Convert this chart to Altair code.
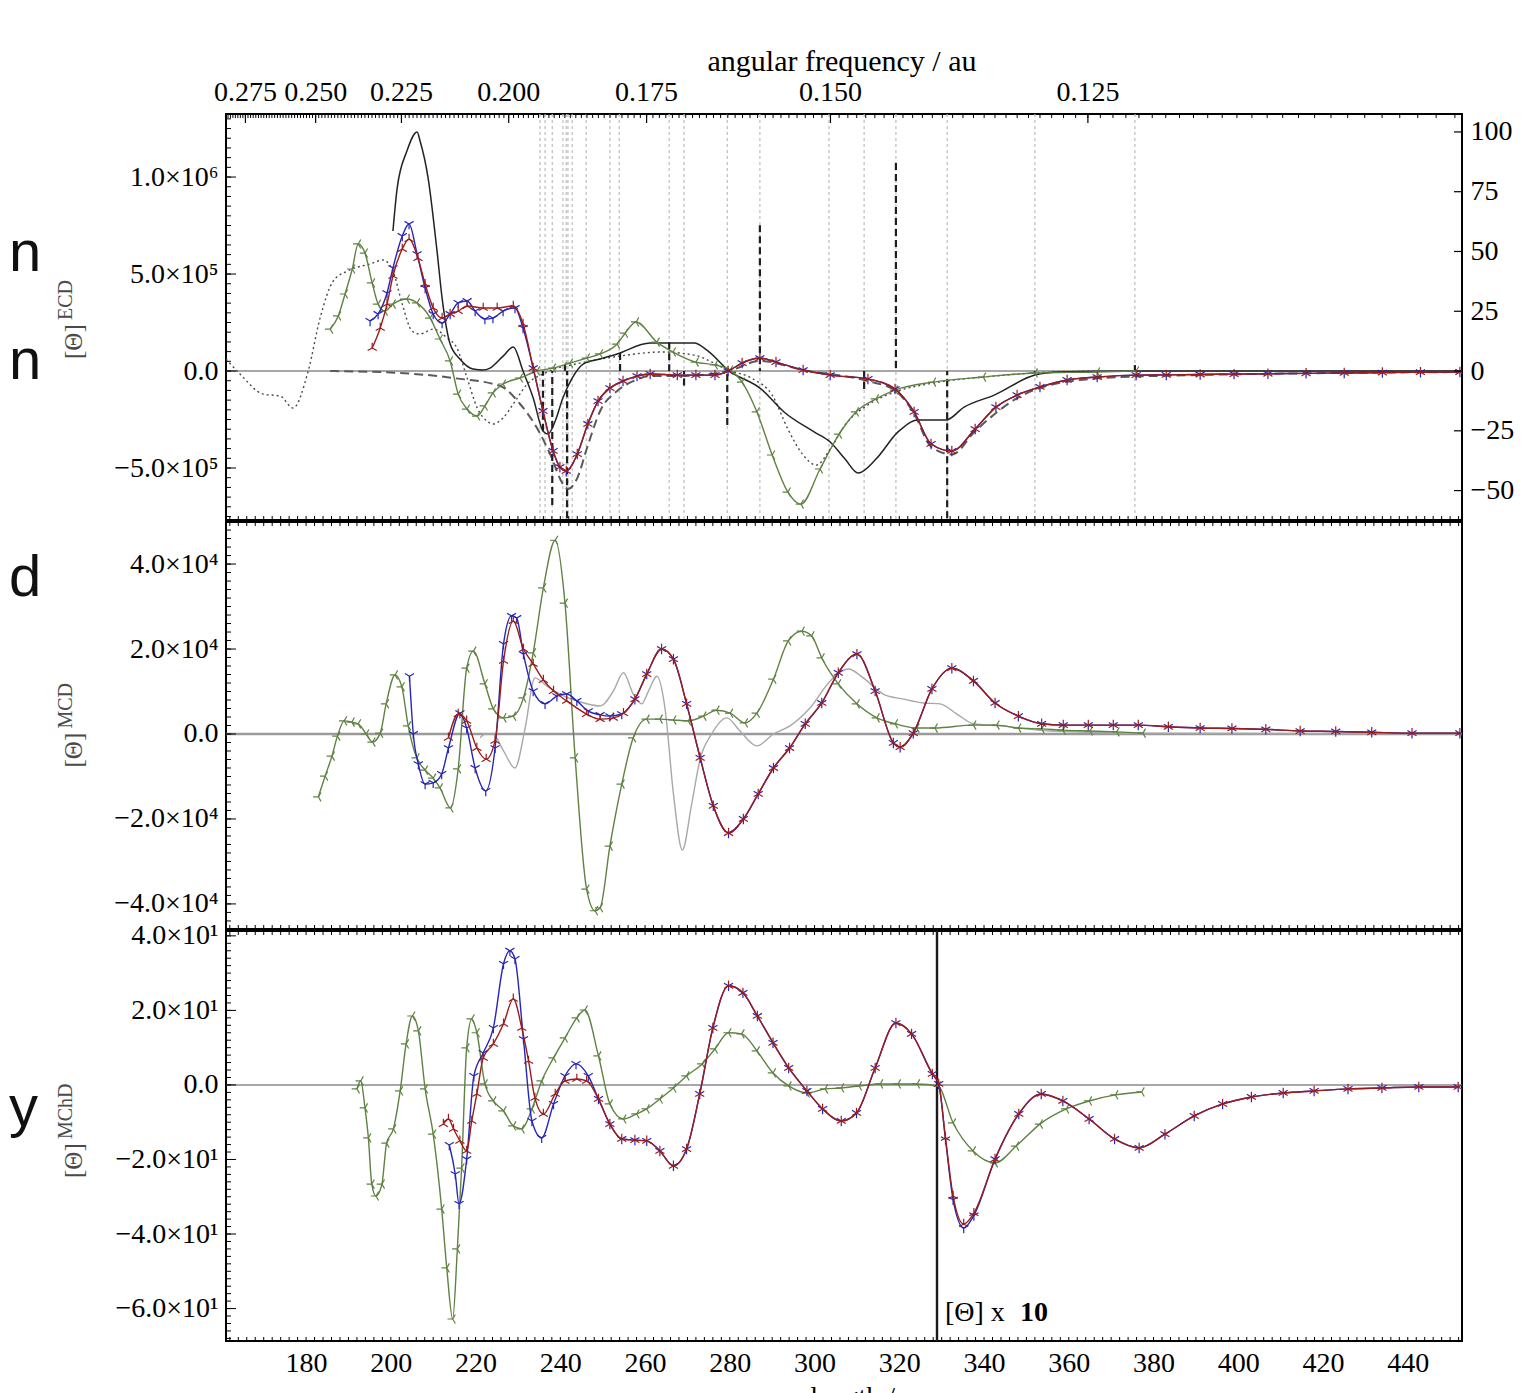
import altair as alt
import numpy as np
import pandas as pd

# ===================== DATA =====================
# x: wavelength / nm.  ECD in units of 1e5, MCD in 1e4, MChD as is (x10 right of break)
ECD_BLACK_X = [200.5, 201.5, 203.8, 206.2, 206.9, 208.8, 210.9, 212.1, 214.0, 216.3, 219.4, 221.8, 223.4,
               226.5, 228.9, 231.2, 233.6, 235.9, 237.1, 238.8, 240.6, 242.8, 245.4, 249.4, 253.4, 261.2,
               271.6, 274.6, 279.6, 287.4, 292.8, 299.9, 303.7, 307.2, 310.3, 314.5, 319.7, 324.4, 331.0,
               335.3, 342.4, 352.0, 357.9, 375.4, 452.8]
ECD_BLACK_Y = [7.22, 9.43, 11.34, 12.32, 11.86, 9.95, 6.19, 3.76, 1.39, 0.62, 0.10, 0.05, 0.15,
               0.77, 1.24, 0.0, -1.39, -3.09, -3.25, -2.58, -1.39, -0.36, 0.36, 0.62, 0.88, 1.44,
               1.44, 1.08, 0.05, -0.93, -2.11, -3.14, -3.66, -4.54, -5.26, -4.54, -3.14, -2.53, -2.53,
               -1.86, -1.24, -0.21, -0.05, 0.0, 0.0]

ECD_DOTTED_X = [161.1, 164.4, 169.9, 173.9, 176.9, 180.5, 183.3, 186.4, 189.7, 195.1, 198.2, 200.5, 202.7,
                205.0, 206.9, 210.0, 213.3, 215.6, 218.0, 220.4, 222.7, 224.1, 226.5, 228.9, 232.2, 236.4,
                244.7, 254.1, 263.8, 271.6, 279.6, 285.5, 290.0, 293.7, 297.3, 300.4, 303.7, 307.2, 312.6,
                319.0, 328.0, 339.8, 352.0, 367.4]
ECD_DOTTED_Y = [0.62, -0.15, -1.19, -1.29, -1.91, 0.0, 2.73, 4.64, 5.15, 5.52, 5.72, 5.15, 3.45,
                2.06, 1.91, 2.16, 1.70, 1.19, -0.36, -1.91, -2.58, -2.73, -2.42, -1.70, -0.67, -0.10,
                0.41, 0.77, 0.98, 0.82, 0.05, -0.41, -1.24, -2.99, -4.33, -4.85, -4.02, -2.78, -1.75,
                -1.08, -0.62, -0.31, -0.10, 0.0]

ECD_DASHED_X = [185.7, 202.2, 214.7, 225.8, 230.5, 234.5, 237.6, 240.6, 241.8, 244.0, 246.3, 249.4, 253.4,
                257.2, 261.2, 267.6, 279.6, 287.1, 297.3, 312.6, 319.0, 323.5, 327.5, 332.4, 337.9, 347.8,
                359.6, 375.9, 452.8]
ECD_DASHED_Y = [0.0, -0.10, -0.36, -0.77, -1.70, -2.94, -4.28, -5.82, -6.08, -5.52, -3.97, -2.06, -1.03,
                -0.52, -0.26, -0.26, 0.0, 0.52, 0.05, -0.52, -1.0, -2.2, -3.9, -4.3, -3.1, -1.4,
                -0.55, -0.28, -0.05]

ECD_GREEN_X = [185.7, 187.6, 189.2, 190.9, 192.3, 193.9, 195.6, 197.0, 198.6, 200.5, 203.8, 206.2, 209.3,
               211.6, 214.0, 215.9, 218.0, 220.4, 222.2, 224.1, 226.5, 230.5, 234.5, 238.3, 242.3, 246.3,
               249.4, 253.4, 255.3, 257.9, 262.8, 266.6, 272.0, 276.5, 280.1, 282.9, 286.4, 290.0, 293.7,
               296.8, 301.3, 305.8, 309.8, 314.5, 319.0, 328.0, 339.8, 352.0, 366.7, 375.9]
ECD_GREEN_Y = [2.16, 2.84, 3.97, 5.26, 6.55, 6.08, 4.54, 3.45, 3.09, 3.45, 3.71, 3.51, 2.73,
               1.65, 0.52, -1.19, -1.96, -2.32, -1.80, -1.13, -0.67, -0.36, 0.0, 0.15, 0.41, 0.67,
               0.88, 1.39, 1.95, 2.53, 1.49, 0.98, 0.46, 0.31, 0.05, -0.57, -2.11, -4.33, -6.24,
               -6.86, -5.05, -3.25, -2.11, -1.44, -0.98, -0.57, -0.31, -0.10, -0.05, 0.0]

ECD_RED_HEAD_X = [195.6, 197.5, 199.1, 200.5, 202.7, 204.3, 206.4, 208.1, 210.0, 212.1, 214.0, 215.9,
                  218.0, 221.8, 225.1, 228.9, 231.2]
ECD_RED_HEAD_Y = [1.19, 2.22, 3.45, 4.90, 6.29, 6.80, 5.82, 4.48, 3.25, 2.73, 2.94, 3.09,
                  3.35, 3.25, 3.25, 3.35, 2.42]
ECD_BLUE_HEAD_X = [195.1, 197.0, 199.1, 200.5, 202.7, 204.3, 206.2, 208.1, 210.0, 212.1, 214.0, 215.9,
                   218.0, 219.9, 222.2, 224.1, 226.5, 229.3, 231.2]
ECD_BLUE_HEAD_Y = [2.58, 2.94, 4.02, 5.31, 6.96, 7.58, 6.03, 4.28, 2.94, 2.47, 2.94, 3.51,
                   3.61, 3.09, 2.68, 2.73, 3.09, 3.25, 2.22]
ECD_TAIL_X = [233.6, 235.9, 238.3, 239.9, 241.4, 244.0, 246.5, 248.9, 251.7, 254.8, 258.1, 261.2,
              267.6, 272.0, 276.5, 279.6, 282.9, 287.1, 290.9, 297.3, 303.7, 312.6, 319.0, 323.5,
              327.5, 332.4, 337.9, 342.8, 347.8, 353.2, 359.6, 366.7, 375.9, 383.0, 391.0, 399.0,
              407.0, 416.0, 425.0, 434.0, 443.0, 452.3]
ECD_TAIL_Y = [0.15, -2.06, -4.12, -4.95, -5.15, -4.28, -2.73, -1.55, -0.88, -0.52, -0.26, -0.15,
              -0.21, -0.21, -0.21, 0.0, 0.41, 0.67, 0.46, 0.05, -0.21, -0.41, -0.93, -2.11,
              -3.76, -4.12, -2.99, -1.86, -1.24, -0.82, -0.46, -0.31, -0.21, -0.20, -0.18, -0.16,
              -0.14, -0.12, -0.10, -0.08, -0.06, -0.05]

# stick spectrum (right axis) and excitation wavelengths
STICK_X = [235.9, 238.1, 241.1, 241.6, 254.1, 265.7, 269.2, 279.4, 287.1, 311.7, 319.2, 331.3, 352.0, 375.6]
STICK_R = [-25, -56, 3, -80, 7.5, 12, -6, -22.6, 61, -7.5, 87, -80, -1, 2.5]
EXC_X = [235.2, 236.4, 238.1, 240.6, 241.4, 241.8, 242.8, 246.1, 251.7, 253.9, 265.7, 269.2, 279.4,
         287.1, 303.4, 311.7, 319.2, 331.3, 352.0, 375.6]

MCD_GREEN_X = [182.9, 184.5, 186.1, 187.4, 189.0, 190.8, 192.3, 194.2, 195.7, 197.5, 198.9, 201.0, 202.6,
               204.1, 206.1, 208.1, 210.0, 211.6, 214.1, 215.9, 217.9, 219.5, 222.2, 224.2, 226.6, 228.9,
               231.3, 233.6, 236.0, 238.8, 241.1, 243.5, 246.2, 248.2, 249.4, 251.7, 254.5, 257.2, 260.4,
               263.5, 266.7, 270.2, 273.8, 276.9, 280.1, 283.6, 286.4, 290.3, 293.8, 297.0, 299.3, 301.7,
               305.6, 310.0, 314.7, 319.0, 324.1, 328.4, 337.5, 343.0, 348.1, 353.6, 358.6, 365.0, 371.3,
               377.5]
MCD_GREEN_Y = [-1.48, -0.99, -0.52, -0.05, 0.31, 0.28, 0.24, 0.0, -0.19, 0.02, 0.71, 1.39, 1.11,
               0.19, -0.56, -0.85, -1.04, -1.27, -1.74, -0.82, 1.55, 1.95, 1.18, 0.59, 0.38, 0.42,
               0.85, 1.91, 3.44, 4.56, 3.08, -0.56, -3.65, -4.16, -4.09, -2.64, -1.18, -0.09, 0.35,
               0.35, 0.33, 0.31, 0.42, 0.56, 0.49, 0.26, 0.49, 1.29, 2.19, 2.42, 2.31, 1.79,
               1.18, 0.71, 0.38, 0.24, 0.14, 0.14, 0.21, 0.21, 0.14, 0.12, 0.09, 0.07, 0.05,
               0.02]
MCD_GRAY_X = [221.1, 222.2, 224.1, 226.6, 229.3, 231.7, 234.0, 236.8, 239.9, 243.9, 249.4, 252.5, 254.9,
              257.2, 259.2, 260.8, 262.8, 264.7, 266.7, 268.8, 271.0, 273.0, 275.7, 279.3, 282.4, 286.4,
              290.3, 294.2, 298.9, 303.7, 308.0, 311.5, 316.2, 321.0, 325.7, 329.6, 333.6, 337.5, 343.8,
              355.6, 377.5, 452.8]
MCD_GRAY_Y = [-0.09, 0.0, 0.0, -0.40, -0.80, 0.14, 1.32, 1.13, 0.94, 0.78, 0.66, 1.01, 1.44,
              0.94, 0.71, 1.01, 1.36, 0.61, -1.41, -2.73, -1.65, -0.59, 0.0, 0.38, 0.07, -0.28,
              0.0, 0.19, 0.61, 1.25, 1.53, 1.32, 0.94, 0.82, 0.73, 0.71, 0.47, 0.24, 0.19,
              0.07, 0.02, 0.0]
MCD_RED_HEAD_X = [213.6, 215.9, 217.9, 220.3, 222.5, 224.6, 226.6, 228.9, 231.3, 233.6, 236.0, 238.4,
                  241.5, 246.2, 249.4, 252.5, 254.9]
MCD_RED_HEAD_Y = [-0.09, 0.47, 0.31, -0.33, -0.59, -0.16, 1.72, 2.66, 2.00, 1.65, 1.27, 1.01,
                  0.78, 0.47, 0.35, 0.38, 0.49]
MCD_BLUE_HEAD_X = [204.4, 205.3, 206.5, 208.1, 210.0, 212.0, 213.6, 216.3, 217.9, 219.9, 222.4, 224.6,
                   226.6, 228.5, 229.7, 231.3, 233.6, 236.4, 239.2, 241.5, 243.9, 246.6, 249.4, 251.7,
                   254.5]
MCD_BLUE_HEAD_Y = [1.36, 0.0, -0.71, -1.18, -1.15, -0.94, -0.33, 0.49, 0.14, -0.80, -1.34, -0.33,
                   2.12, 2.78, 2.73, 1.88, 1.01, 0.71, 0.89, 0.94, 0.78, 0.54, 0.45, 0.42,
                   0.47]
MCD_TAIL_X = [257.6, 260.4, 263.9, 266.7, 269.8, 273.0, 276.1, 279.7, 283.2, 286.7, 290.3, 294.1, 297.8,
              301.7, 305.6, 310.0, 314.3, 318.6, 320.2, 323.3, 327.7, 332.4, 337.5, 342.6, 348.1, 353.6,
              358.7, 364.6, 370.5, 376.4, 383.5, 391.0, 398.5, 406.5, 414.6, 423.0, 431.5, 441.0, 452.3]
MCD_TAIL_Y = [0.82, 1.41, 2.00, 1.76, 0.71, -0.56, -1.69, -2.33, -2.00, -1.41, -0.80, -0.33, 0.24,
              0.73, 1.44, 1.88, 1.01, -0.21, -0.31, 0.02, 1.06, 1.55, 1.25, 0.73, 0.42, 0.24,
              0.21, 0.21, 0.21, 0.21, 0.17, 0.14, 0.13, 0.11, 0.07, 0.06, 0.04, 0.02, 0.02]

MCHD_GREEN_X = [192.0, 192.9, 193.9, 194.7, 195.5, 196.5, 197.9, 199.0, 200.6, 202.2, 203.6, 205.1, 206.5,
                208.1, 210.0, 212.0, 213.2, 214.6, 215.7, 216.7, 217.9, 219.1, 220.3, 222.2, 224.2, 226.6,
                228.9, 230.9, 233.3, 235.6, 238.4, 241.1, 243.9, 245.8, 249.0, 251.7, 254.9, 258.0, 260.4,
                263.5, 266.7, 269.8, 273.5, 276.5, 279.7, 282.8, 286.4, 290.2, 293.9, 298.2, 302.5, 306.3,
                310.5, 315.5, 319.7, 324.2, 329.1, 332.7, 337.4, 342.6, 347.6, 353.2, 359.4, 364.8, 371.0,
                377.2]
MCHD_GREEN_Y = [-1.07, 1.07, -6.17, -14.2, -26.6, -29.8, -26.6, -15.6, -11.8, -1.61, 11.0, 18.5, 14.5,
                -1.07, -13.2, -33.3, -49.1, -62.8, -44.0, -22.3, 9.93, 17.7, 14.0, 0.27, -4.30, -6.98,
                -11.0, -11.8, -6.44, 1.07, 7.25, 12.6, 18.0, 20.1, 7.79, -5.10, -9.13, -7.79, -6.44,
                -3.76, -0.81, 2.42, 5.64, 9.66, 14.0, 13.7, 9.13, 3.22, -0.27, -2.15, -1.07, -0.81,
                -0.27, 0.27, 0.27, 0.27, -0.27, -10.2, -17.7, -20.9, -16.4, -10.5, -6.44, -4.30, -2.68,
                -1.88]
MCHD_RED_HEAD_X = [212.4, 213.6, 214.8, 216.3, 217.9, 219.1, 220.3, 221.8, 224.2, 226.6, 228.9, 230.9,
                   232.5, 234.0, 236.0, 238.8, 241.1, 243.9, 246.2, 249.0]
MCHD_RED_HEAD_Y = [-10.5, -9.13, -11.8, -15.0, -17.7, -9.66, -2.42, 7.25, 11.0, 16.4, 23.1, 15.3,
                   6.44, -3.49, -7.79, -2.42, 1.07, 1.61, 1.07, -3.76]
MCHD_BLUE_HEAD_X = [213.8, 215.2, 216.1, 217.9, 219.6, 221.8, 224.2, 226.6, 228.1, 229.3, 231.3, 233.3,
                    235.6, 238.4, 241.1, 243.7, 246.6, 249.0]
MCHD_BLUE_HEAD_Y = [-16.1, -23.9, -31.9, -19.9, 2.42, 8.59, 15.3, 32.5, 36.0, 33.8, 12.3, -9.66,
                    -14.2, -5.10, 2.42, 5.64, 2.42, -3.76]
MCHD_TAIL_X = [251.7, 254.5, 257.6, 260.4, 263.5, 266.7, 269.8, 272.9, 276.0, 279.7, 283.1, 286.5, 290.2,
               293.9, 298.2, 301.9, 306.3, 309.9, 314.3, 319.2, 322.9, 327.8, 329.3, 330.9, 332.7, 335.2,
               337.6, 342.6, 348.2, 353.5, 358.6, 364.8, 370.8, 376.6, 382.7, 389.6, 396.3, 403.1, 410.6,
               417.9, 425.9, 433.9, 442.6, 451.9]
MCHD_TAIL_RED_Y = [-10.5, -14.5, -14.8, -15.0, -17.7, -21.7, -17.2, -2.42, 15.3, 26.6, 24.7, 18.5, 11.3,
                   4.56, -1.61, -6.44, -9.66, -7.52, 4.56, 16.6, 13.7, 2.95, 0.27, -14.2, -29.8, -37.3,
                   -34.4, -19.9, -7.79, -2.42, -4.30, -9.13, -14.5, -16.9, -13.2, -8.32, -5.10, -3.22, -2.15,
                   -1.61, -1.07, -0.81, -0.54, -0.54]
MCHD_TAIL_BLUE_Y = [-10.5, -14.5, -14.8, -15.0, -17.7, -21.7, -17.2, -2.42, 15.3, 26.6, 24.7, 18.5, 11.3,
                    4.56, -1.61, -6.44, -9.66, -7.52, 4.56, 16.6, 13.7, 2.95, 0.27, -14.6, -30.8, -38.4,
                    -35.0, -19.9, -7.79, -2.42, -4.30, -9.13, -14.5, -16.9, -13.2, -8.32, -5.10, -3.22, -2.15,
                    -1.61, -1.07, -0.81, -0.54, -0.54]
SCALE_BREAK_NM = 328.9

FREQ_TICKS = [0.275, 0.250, 0.225, 0.200, 0.175, 0.150, 0.125]
FREQ_LABELS = ["0.275", "0.250", "0.225", "0.200", "0.175", "0.150", "0.125"]
WL_TICKS = list(range(180, 441, 20))
AU_NM = 45.5634  # lambda[nm] = 45.5634 / omega[au]

# ===================== STYLE =====================
W = 1236
H1, H2, H3 = 406, 407, 410
XDOM = [161.1, 452.8]
ECD_DOM = [-7.68, 13.25]
R_DOM = [-62.3, 107.5]
MCD_DOM = [-4.59, 4.99]
MCHD_DOM = [-68.7, 41.3]
SERIF = "Liberation Serif"
LBL = 28
BLUE, RED, GREEN = "#2626b8", "#9c1c1c", "#5f8242"
TRI_DOWN = "M0,0L0,1M0,0L-0.866,-0.5M0,0L0.866,-0.5"
TRI_UP = "M0,0L0,-1M0,0L-0.866,0.5M0,0L0.866,0.5"
TRI_LEFT = "M0,0L-1,0M0,0L0.5,-0.866M0,0L0.5,0.866"
LETTER_X = -217


def xenc(field="x", axis=None):
    return alt.X(f"{field}:Q", scale=alt.Scale(domain=XDOM, nice=False, zero=False), axis=axis)


def yenc(dom, field="y", axis=None):
    return alt.Y(f"{field}:Q", scale=alt.Scale(domain=dom, nice=False, zero=False), axis=axis)


def series(xv, yv, dom, color, width=1.4, dash=None, shape=None):
    base = alt.Chart(pd.DataFrame({"x": xv, "y": yv}))
    kw = dict(color=color, strokeWidth=width, interpolate="monotone", clip=True)
    if dash:
        kw["strokeDash"] = dash
    out = [base.mark_line(**kw).encode(x=xenc(), y=yenc(dom))]
    if shape:
        out.append(base.mark_point(shape=shape, filled=False, size=110, strokeWidth=1.2,
                                   color=color, opacity=1, clip=True).encode(x=xenc(), y=yenc(dom)))
    return out


def xticks(edge, h, axis=None):
    out = []
    for step, ln in ((2, 4), (10, 6), (20, 9)):
        vals = [v for v in range(162, 453, step) if v % step == 0]
        y0, y1 = (h, h - ln) if edge == "bottom" else (0, ln)
        out.append(alt.Chart(pd.DataFrame({"x": vals})).mark_rule(color="black", strokeWidth=1).encode(
            x=xenc(axis=axis if step == 20 else None), y=alt.value(y0), y2=alt.value(y1)))
    return out


def yticks(minor, major, dom):
    out = []
    for vals, ln in ((minor, 5), (major, 10)):
        out.append(alt.Chart(pd.DataFrame({"y": list(vals)})).mark_rule(color="black", strokeWidth=1).encode(
            y=yenc(dom), x=alt.value(0), x2=alt.value(ln)))
    return out


def yaxis(values, expr):
    return alt.Axis(values=values, labelExpr=expr, ticks=False, domain=False, grid=False,
                    labelFont=SERIF, labelFontSize=LBL, labelColor="black", labelPadding=8, title=None)


def ytitle(sup, h):
    # rotated "[Θ]" with a superscript label, drawn as two text marks
    main = alt.Chart(pd.DataFrame({"t": ["[Θ]"]})).mark_text(
        font=SERIF, fontSize=25, angle=270, align="left", baseline="alphabetic", color="#4a4a4a").encode(
        x=alt.value(-144), y=alt.value(h / 2 + 42), text="t:N")
    sup_t = alt.Chart(pd.DataFrame({"t": [sup]})).mark_text(
        font=SERIF, fontSize=20, angle=270, align="left", baseline="alphabetic", color="#4a4a4a").encode(
        x=alt.value(-154), y=alt.value(h / 2 + 3), text="t:N")
    return [main, sup_t]


def zero_line(dom, axis, color, width):
    return alt.Chart(pd.DataFrame({"y": [0]})).mark_rule(color=color, strokeWidth=width).encode(
        y=yenc(dom, axis=axis))


def letter(ch, ybase):
    return alt.Chart(pd.DataFrame({"t": [ch]})).mark_text(
        font="Liberation Sans", fontSize=58, align="left", baseline="alphabetic", color="#111").encode(
        x=alt.value(LETTER_X), y=alt.value(ybase), text="t:N")


# ---------- top panel: ECD ----------
top_expr = ("datum.value == 0 ? '0.0' : datum.value == 10 ? '1.0×10⁶' : "
            "(datum.value < 0 ? '−' : '') + format(abs(datum.value), '.1f') + '×10⁵'")
right_axis = alt.Axis(orient="right", values=[-50, -25, 0, 25, 50, 75, 100],
                      labelExpr="datum.value < 0 ? '−' + abs(datum.value) : '' + datum.value",
                      ticks=False, domain=False, grid=False, labelFont=SERIF, labelFontSize=LBL,
                      labelColor="black", labelPadding=8, title=None)

top_layers = []
top_layers.append(alt.Chart(pd.DataFrame({"x": EXC_X})).mark_rule(
    color="#bdbdbd", strokeDash=[3, 3], strokeWidth=1.2).encode(x=xenc()))
top_layers.append(zero_line(ECD_DOM, yaxis([-5, 0, 5, 10], top_expr), "#8a8a8a", 1.5))
top_layers += series(ECD_DASHED_X, ECD_DASHED_Y, ECD_DOM, "#5a5a5a", width=2, dash=[9, 5])
top_layers += series(ECD_DOTTED_X, ECD_DOTTED_Y, ECD_DOM, "#4a4a4a", width=1.4, dash=[2, 3])
top_layers += series(ECD_BLACK_X, ECD_BLACK_Y, ECD_DOM, "#222222", width=1.5)
top_layers.append(alt.Chart(pd.DataFrame({"x": STICK_X, "r": STICK_R})).mark_rule(
    color="#1e1e1e", strokeDash=[7, 4], strokeWidth=2.2, clip=True).encode(
    x=xenc(), y=yenc(R_DOM, field="r", axis=right_axis), y2=alt.datum(0)))
top_layers += series(ECD_GREEN_X, ECD_GREEN_Y, ECD_DOM, GREEN, shape=TRI_LEFT)
top_layers += series(ECD_BLUE_HEAD_X + ECD_TAIL_X, ECD_BLUE_HEAD_Y + ECD_TAIL_Y, ECD_DOM, BLUE, shape=TRI_DOWN)
top_layers += series(ECD_RED_HEAD_X + ECD_TAIL_X, ECD_RED_HEAD_Y + ECD_TAIL_Y, ECD_DOM, RED, shape=TRI_UP)

# top frequency axis (nonlinear, drawn through the wavelength scale)
fminor = pd.DataFrame({"f": [round(0.100 + 0.001 * i, 3) for i in range(0, 184)]})
top_layers.append(alt.Chart(fminor).transform_calculate(x=f"{AU_NM} / datum.f").transform_filter(
    f"datum.x >= {XDOM[0]} && datum.x <= {XDOM[1]}").mark_rule(color="black", strokeWidth=1).encode(
    x=xenc(), y=alt.value(0), y2=alt.value(4)))
fmaj = pd.DataFrame({"f": FREQ_TICKS, "lab": FREQ_LABELS})
top_layers.append(alt.Chart(fmaj).transform_calculate(x=f"{AU_NM} / datum.f").mark_rule(
    color="black", strokeWidth=1.2).encode(x=xenc(), y=alt.value(0), y2=alt.value(9)))
top_layers.append(alt.Chart(fmaj).transform_calculate(x=f"{AU_NM} / datum.f").mark_text(
    font=SERIF, fontSize=LBL, baseline="alphabetic", align="center", color="black").encode(
    x=xenc(), y=alt.value(-13), text="lab:N"))
top_layers.append(alt.Chart(pd.DataFrame({"t": ["angular frequency / au"]})).mark_text(
    font=SERIF, fontSize=30, baseline="alphabetic", align="center", color="black").encode(
    x=alt.value(W / 2 - 2), y=alt.value(-43), text="t:N"))
top_layers += xticks("bottom", H1)
top_layers += yticks(np.arange(-7.5, 13.01, 0.5).round(2), [-5, 0, 5, 10], ECD_DOM)
top_layers.append(alt.Chart(pd.DataFrame({"y": [-50, -25, 0, 25, 50, 75, 100]})).mark_rule(
    color="black", strokeWidth=1.2).encode(y=yenc(R_DOM), x=alt.value(W), x2=alt.value(W - 8)))
top_layers += ytitle("ECD", H1)
top_layers.append(letter("n", 157))
top_layers.append(letter("n", 265))

top = alt.layer(*top_layers).resolve_scale(x="independent", y="independent").properties(width=W, height=H1)

# ---------- middle panel: MCD ----------
mid_expr = ("datum.value == 0 ? '0.0' : (datum.value < 0 ? '−' : '') + "
            "format(abs(datum.value), '.1f') + '×10⁴'")
mid_layers = [zero_line(MCD_DOM, yaxis([-4, -2, 0, 2, 4], mid_expr), "#9a9a9a", 2.5)]
mid_layers += series(MCD_GRAY_X, MCD_GRAY_Y, MCD_DOM, "#a8a8a8", width=1.4)
mid_layers += series(MCD_GREEN_X, MCD_GREEN_Y, MCD_DOM, GREEN, shape=TRI_LEFT)
mid_layers += series(MCD_BLUE_HEAD_X + MCD_TAIL_X, MCD_BLUE_HEAD_Y + MCD_TAIL_Y, MCD_DOM, BLUE, shape=TRI_DOWN)
mid_layers += series(MCD_RED_HEAD_X + MCD_TAIL_X, MCD_RED_HEAD_Y + MCD_TAIL_Y, MCD_DOM, RED, shape=TRI_UP)
mid_layers += xticks("top", H2)
mid_layers += xticks("bottom", H2)
mid_layers += yticks(np.arange(-4.4, 4.81, 0.2).round(2), [-4, -2, 0, 2, 4], MCD_DOM)
mid_layers += ytitle("MCD", H2)
mid_layers.append(letter("d", 74))
mid = alt.layer(*mid_layers).resolve_scale(x="independent", y="independent").properties(width=W, height=H2)

# ---------- bottom panel: MChD ----------
bot_expr = ("datum.value == 0 ? '0.0' : (datum.value < 0 ? '−' : '') + "
            "format(abs(datum.value) / 10, '.1f') + '×10¹'")
x_axis = alt.Axis(values=WL_TICKS, ticks=False, domain=False, grid=False, labelFont=SERIF,
                  labelFontSize=LBL, labelColor="black", labelPadding=8, title="wavelength / nm",
                  titleFont=SERIF, titleFontSize=LBL, titleFontWeight="normal", titleColor="black",
                  titlePadding=6)
bot_layers = [zero_line(MCHD_DOM, yaxis([-60, -40, -20, 0, 20, 40], bot_expr), "#8a8a8a", 1.5)]
bot_layers.append(alt.Chart(pd.DataFrame({"x": [SCALE_BREAK_NM]})).mark_rule(
    color="#1a1a1a", strokeWidth=2.4).encode(x=xenc()))
bot_layers += series(MCHD_GREEN_X, MCHD_GREEN_Y, MCHD_DOM, GREEN, shape=TRI_LEFT)
bot_layers += series(MCHD_BLUE_HEAD_X + MCHD_TAIL_X, MCHD_BLUE_HEAD_Y + MCHD_TAIL_BLUE_Y, MCHD_DOM, BLUE,
                     shape=TRI_DOWN)
bot_layers += series(MCHD_RED_HEAD_X + MCHD_TAIL_X, MCHD_RED_HEAD_Y + MCHD_TAIL_RED_Y, MCHD_DOM, RED,
                     shape=TRI_UP)
bot_layers += xticks("top", H3)
bot_layers += xticks("bottom", H3, axis=x_axis)
bot_layers += yticks(np.arange(-68, 41, 2), [-60, -40, -20, 0, 20, 40], MCHD_DOM)
bot_layers += ytitle("MChD", H3)
bot_layers.append(alt.Chart(pd.DataFrame({"t": ["[Θ] x"]})).mark_text(
    font=SERIF, fontSize=28, align="left", baseline="alphabetic", color="black").encode(
    x=alt.value(719), y=alt.value(390), text="t:N"))
bot_layers.append(alt.Chart(pd.DataFrame({"t": ["10"]})).mark_text(
    font=SERIF, fontSize=28, fontWeight="bold", align="left", baseline="alphabetic", color="black").encode(
    x=alt.value(794), y=alt.value(390), text="t:N"))
bot_layers.append(letter("y", 195))
bot = alt.layer(*bot_layers).resolve_scale(x="independent", y="independent").properties(width=W, height=H3)

chart = alt.vconcat(top, mid, bot, spacing=2, bounds="flush").properties(
    padding={"left": 0, "top": 38, "right": 5, "bottom": 5}
).configure_view(stroke="black", strokeWidth=2)

chart.save("out.html", embed_options={"renderer": "svg", "actions": False})
